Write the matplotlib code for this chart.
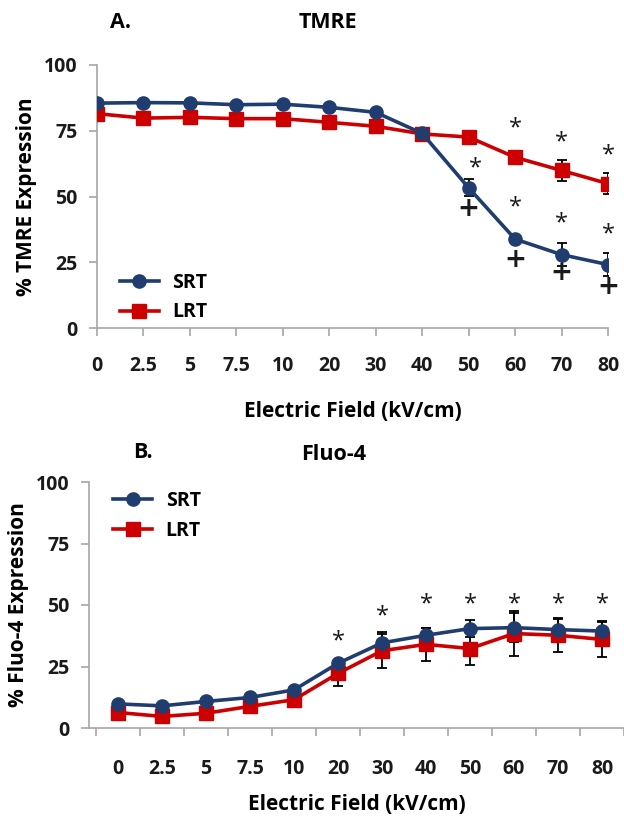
import matplotlib
matplotlib.use("Agg")
import matplotlib.pyplot as plt

plt.rcParams['font.family'] = ['Open Sans', 'DejaVu Sans']
plt.rcParams['font.weight'] = 'bold'
plt.rcParams['axes.labelweight'] = 'bold'

fields = ['0', '2.5', '5', '7.5', '10', '20', '30', '40', '50', '60', '70', '80']
yticks = [0, 25, 50, 75, 100]

# panel A - TMRE
tmre_srt = [85.5, 85.7, 85.6, 84.9, 85.1, 83.9, 82.0, 74.0, 53.3, 33.8, 27.9, 24.1]
tmre_srt_err = [0.8, 0.8, 0.8, 0.8, 0.8, 0.8, 0.8, 0.8, 3.2, 1.5, 4.3, 4.4]
tmre_lrt = [81.5, 79.8, 80.1, 79.6, 79.6, 78.2, 76.7, 73.8, 72.6, 64.9, 59.9, 54.9]
tmre_lrt_err = [0.8, 0.8, 0.8, 0.8, 0.8, 0.8, 0.8, 0.8, 0.8, 2.3, 4.1, 4.1]
tmre_star_x = [8.15, 9, 10, 11, 9, 10, 11]
tmre_star_y = [62.4, 77.3, 72.3, 67.2, 47.4, 41.4, 37.0]
tmre_plus_x = [8, 9, 10, 11]
tmre_plus_y = [44.5, 25.0, 20.0, 15.0]

# panel B - Fluo-4
fluo_srt = [9.8, 9.0, 10.8, 12.4, 15.5, 26.3, 34.6, 37.7, 40.4, 40.8, 40.0, 39.4]
fluo_srt_err = [0.8, 0.8, 0.8, 0.8, 1.0, 1.5, 4.5, 3.0, 3.5, 6.0, 4.5, 4.0]
fluo_lrt = [6.3, 4.7, 6.0, 8.8, 11.5, 22.2, 31.4, 34.0, 32.3, 38.4, 37.7, 36.0]
fluo_lrt_err = [1.0, 1.0, 1.0, 1.0, 1.5, 5.0, 7.0, 6.8, 6.5, 9.0, 7.0, 7.0]
fluo_star_x = [5, 6, 7, 8, 9, 10, 11]
fluo_star_y = [37.0, 47.2, 51.9, 51.9, 51.9, 51.9, 51.9]

NAVY = '#1f3d6e'
RED = '#cc0000'
GRID = '#a6a6a6'
TXT = '#1a1a1a'
W, H = 624, 818


def style_axis(ax):
    for s in ['top', 'right']:
        ax.spines[s].set_visible(False)
    for s in ['left', 'bottom']:
        ax.spines[s].set_color(GRID)
        ax.spines[s].set_linewidth(1.2)
    ax.tick_params(axis='both', which='both', colors=GRID, width=1.2, length=6)
    ax.tick_params(axis='both', which='both', labelcolor=TXT, labelsize=14)
    ax.tick_params(axis='y', pad=8)
    ax.set_ylim(0, 100)
    ax.set_yticks(yticks, [str(v) for v in yticks], fontweight='bold')


def draw_series(ax, x, srt, srt_err, lrt, lrt_err):
    ax.errorbar(x, lrt, yerr=lrt_err, fmt='none', ecolor='black', elinewidth=1.3,
                capsize=3.5, capthick=1.3, zorder=2)
    ax.errorbar(x, srt, yerr=srt_err, fmt='none', ecolor='black', elinewidth=1.3,
                capsize=3.5, capthick=1.3, zorder=2)
    ax.plot(x, srt, color=NAVY, lw=2.6, marker='o', ms=9.5, zorder=4, label='SRT')
    ax.plot(x, lrt, color=RED, lw=2.6, marker='s', ms=9.5, zorder=3, label='LRT')


def mark(ax, xs_, ys_, sym, size, dy, weight='normal'):
    for mx, my in zip(xs_, ys_):
        ax.annotate(sym, (mx, my), xytext=(0, dy), textcoords='offset points',
                    fontsize=size, fontweight=weight, ha='center', va='center',
                    color=TXT)


fig = plt.figure(figsize=(W / 100, H / 100), dpi=100)
xs = list(range(len(fields)))

# ---- A ----
axA = fig.add_axes([97 / W, 1 - 328 / H, (608 - 97) / W, (328 - 65) / H])
draw_series(axA, xs, tmre_srt, tmre_srt_err, tmre_lrt, tmre_lrt_err)
style_axis(axA)
axA.set_xlim(0, 11)
axA.set_xticks(xs, fields, fontweight='bold')
axA.tick_params(axis='x', pad=14)
mark(axA, tmre_star_x, tmre_star_y, '*', 17, -3)
mark(axA, tmre_plus_x, tmre_plus_y, '+', 25, 0, 'semibold')
axA.set_ylabel('% TMRE Expression', fontsize=15, labelpad=5)
axA.set_xlabel('Electric Field (kV/cm)', fontsize=15, labelpad=18)
axA.legend(loc='upper left', bbox_to_anchor=(0.045, 0.21), frameon=False,
           prop={'size': 14, 'weight': 'bold'}, handlelength=2.0,
           handletextpad=0.7, labelspacing=0.5, borderpad=0, borderaxespad=0)
fig.text(120 / W, 1 - 23 / H, 'A.', fontsize=15.5, fontweight='bold', ha='center', va='center')
fig.text(328 / W, 1 - 22 / H, 'TMRE', fontsize=15.5, fontweight='bold', ha='center', va='center')

# ---- B ----
axB = fig.add_axes([89 / W, 1 - 728 / H, (W - 89) / W, (728 - 482) / H])
draw_series(axB, xs, fluo_srt, fluo_srt_err, fluo_lrt, fluo_lrt_err)
style_axis(axB)
axB.set_xlim(-0.66, 11.45)
axB.set_xticks([i - 0.5 for i in range(len(fields) + 1)], [''] * (len(fields) + 1))
axB.set_xticks(xs, fields, minor=True, fontweight='bold')
axB.tick_params(axis='x', which='minor', length=0, pad=22)
mark(axB, fluo_star_x, fluo_star_y, '*', 17, -3)
axB.set_ylabel('% Fluo-4 Expression', fontsize=15, labelpad=5)
axB.set_xlabel('Electric Field (kV/cm)', fontsize=15, labelpad=11)
axB.legend(loc='upper left', bbox_to_anchor=(0.045, 0.965), frameon=False,
           prop={'size': 14, 'weight': 'bold'}, handlelength=2.0,
           handletextpad=0.7, labelspacing=0.55, borderpad=0, borderaxespad=0)
fig.text(143 / W, 1 - 452 / H, 'B.', fontsize=15.5, fontweight='bold', ha='center', va='center')
fig.text(334 / W, 1 - 455 / H, 'Fluo-4', fontsize=15.5, fontweight='bold', ha='center', va='center')

fig.savefig('out.png', dpi=100)
